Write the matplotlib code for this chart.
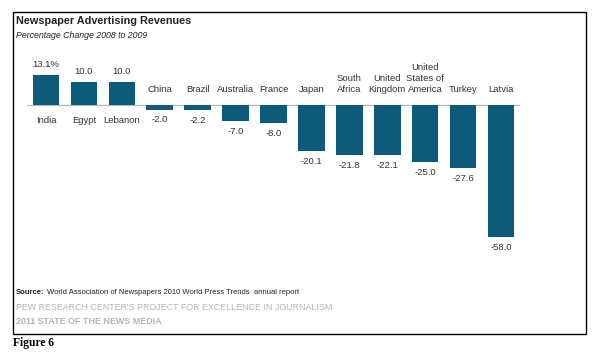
import matplotlib.pyplot as plt
from matplotlib.patches import Rectangle

plt.rcParams['font.family'] = ['Liberation Sans', 'DejaVu Sans']

countries = ["India", "Egypt", "Lebanon", "China", "Brazil", "Australia", "France",
             "Japan", "South\nAfrica", "United\nKingdom", "United\nStates of\nAmerica",
             "Turkey", "Latvia"]
changes = [13.1, 10.0, 10.0, -2.0, -2.2, -7.0, -8.0, -20.1, -21.8, -22.1, -25.0, -27.6, -58.0]
value_labels = ["13.1%", "10.0", "10.0", "-2.0", "-2.2", "-7.0", "-8.0", "-20.1",
                "-21.8", "-22.1", "-25.0", "-27.6", "-58.0"]

W, H = 603, 358
fig = plt.figure(figsize=(W / 100, H / 100), dpi=100)

# axes placed so baseline / bars land where they are in the original
ax = fig.add_axes([27 / W, 1 - 264.3 / H, 493 / W, 216.2 / H])
x = range(len(countries))
ax.bar(x, changes, width=0.7, color="#0b5b79")
ax.axhline(0, color="#b8b8b8", lw=0.9, zorder=0)
ax.set_xlim(-0.5, len(countries) - 0.5)
ax.set_ylim(-70, 25)
ax.axis("off")

txt = "#333333"
fs = 6.8
for i, (name, v, lab) in enumerate(zip(countries, changes, value_labels)):
    if v >= 0:
        ax.annotate(lab, (i, v), xytext=(0, 7.5), textcoords="offset points",
                    ha="center", va="center", fontsize=fs, color=txt)
        ax.annotate(name, (i, 0), xytext=(0, -8), textcoords="offset points",
                    ha="center", va="top", fontsize=fs, color=txt)
    else:
        ax.annotate(lab, (i, v), xytext=(0, -7.5), textcoords="offset points",
                    ha="center", va="center", fontsize=fs, color=txt)
        ax.annotate(name, (i, 0), xytext=(0, 8), textcoords="offset points",
                    ha="center", va="bottom", fontsize=fs, color=txt,
                    linespacing=1.25)

# frame around the chart
fig.patches.append(Rectangle((13 / W, 1 - 334 / H), 573 / W, 322 / H,
                             transform=fig.transFigure, fill=False,
                             edgecolor="black", lw=1.0))

fig.text(16 / W, 1 - 21 / H, "Newspaper Advertising Revenues", fontsize=7.8,
         fontweight="bold", color="#222222", va="center")
fig.text(16 / W, 1 - 35 / H, "Percentage Change 2008 to 2009", fontsize=6.3,
         style="italic", color="#222222", va="center")

src = fig.text(16 / W, 1 - 294.5 / H, "Source:", fontsize=5.5, fontweight="bold",
               color="#222222", va="baseline")
fig.canvas.draw()
ax.annotate("World Association of Newspapers 2010 World Press Trends  annual report",
            xy=(1, 0), xycoords=src, xytext=(2, 0), textcoords="offset points",
            fontsize=5.5, color="#222222", va="bottom")
fig.text(16 / W, 1 - 308 / H, "PEW RESEARCH CENTER'S PROJECT FOR EXCELLENCE IN JOURNALISM",
         fontsize=6.4, color="#b5b5b5", va="center")
fig.text(16 / W, 1 - 321 / H, "2011 STATE OF THE NEWS MEDIA", fontsize=6.4,
         fontweight="bold", color="#b5b5b5", va="center")

fig.text(13 / W, 1 - 343 / H, "Figure 6", fontsize=8.3, fontweight="bold",
         family=["Liberation Serif", "DejaVu Serif"], va="center")

fig.savefig("out.png", dpi=100)
